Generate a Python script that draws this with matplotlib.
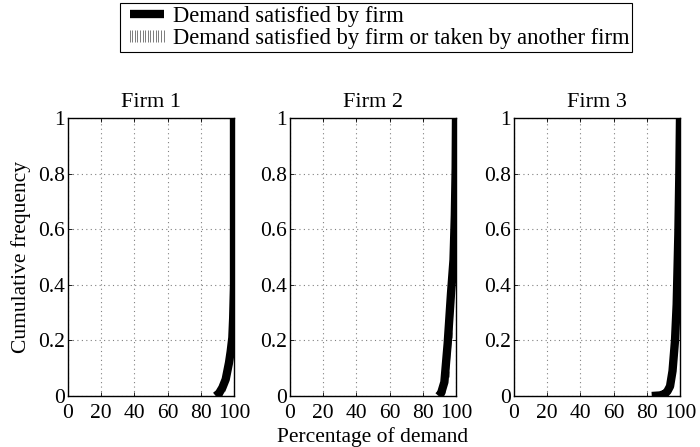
import matplotlib
matplotlib.use('Agg')
import matplotlib.pyplot as plt
from matplotlib.lines import Line2D

plt.rcParams['font.family'] = 'Liberation Serif'
plt.rcParams['font.size'] = 15.5

firms = ['Firm 1', 'Firm 2', 'Firm 3']

# cumulative distribution of demand satisfied by each firm (percent)
sat_x = [
    [89, 91, 93, 95, 97, 98, 99, 99.5, 100, 100],
    [89.5, 91, 93, 95, 97, 98.5, 99.3, 99.8, 100],
    [83, 88, 91, 92.5, 94, 95.5, 97, 98, 99, 99.6, 100],
]
sat_y = [
    [0, 0.01, 0.03, 0.06, 0.12, 0.16, 0.21, 0.28, 0.4, 1.0],
    [0, 0.01, 0.05, 0.19, 0.37, 0.49, 0.65, 0.82, 1.0],
    [0, 0.002, 0.008, 0.018, 0.035, 0.09, 0.2, 0.33, 0.58, 0.8, 1.0],
]

# demand satisfied by the firm or taken by another firm
any_x = [
    [90.5, 92.5, 94.5, 96.5, 98, 99, 99.6, 100, 100],
    [91, 93.5, 95.5, 97.5, 98.8, 99.5, 99.9, 100, 100],
    [89, 92, 94, 96, 97.8, 99, 99.7, 100, 100],
]
any_y = [
    [0, 0.01, 0.03, 0.07, 0.13, 0.21, 0.3, 0.45, 1.0],
    [0, 0.02, 0.08, 0.22, 0.38, 0.55, 0.75, 0.9, 1.0],
    [0, 0.005, 0.02, 0.06, 0.17, 0.35, 0.6, 0.85, 1.0],
]

xticks = [0, 20, 40, 60, 80, 100]
yticks = [0, 0.2, 0.4, 0.6, 0.8, 1]
ytick_labels = ['0', '0.2', '0.4', '0.6', '0.8', '1']

fig = plt.figure(figsize=(7, 4.47), dpi=100)
lefts = [68 / 700, 290 / 700, 514 / 700]
axes = []
for i, name in enumerate(firms):
    ax = fig.add_axes([lefts[i], 51 / 447, 166 / 700, 278 / 447])
    ax.plot(any_x[i], any_y[i], color='0.45', linewidth=0.5, marker='|',
            markersize=4, markeredgewidth=0.5, zorder=2)
    ax.plot(sat_x[i], sat_y[i], color='black', linewidth=6, solid_capstyle='butt', zorder=3)
    ax.set_xlim(0, 100)
    ax.set_ylim(0, 1)
    ax.set_xticks(xticks)
    ax.set_yticks(yticks)
    ax.set_yticklabels(ytick_labels)
    ax.tick_params(direction='in', length=3, width=0.6, top=True, right=True, pad=2)
    ax.tick_params(axis='x', pad=6)
    ax.grid(True, linestyle=(0, (1, 3)), color='0.5', linewidth=0.8)
    for s in ax.spines.values():
        s.set_linewidth(1.0)
    ax.set_title(name, fontsize=16, pad=8)
    axes.append(ax)

axes[0].set_ylabel('Cumulative frequency', labelpad=5)
axes[1].set_xlabel('Percentage of demand', labelpad=3)

handles = [
    Line2D([], [], color='black', linewidth=6, solid_capstyle='butt'),
    Line2D([], [], color='0.4', linewidth=0, marker='|', markersize=9,
           markeredgewidth=0.6),
]
labels = ['Demand satisfied by firm',
          'Demand satisfied by firm or taken by another firm']
leg = fig.legend(handles, labels, loc='upper center', fontsize=16.3,
                 bbox_to_anchor=(376 / 700, 1 - 3 / 447), numpoints=14,
                 handlelength=2.1, handletextpad=0.1, labelspacing=0.05,
                 borderpad=0.12, borderaxespad=0, fancybox=False, framealpha=1)
leg.get_frame().set_edgecolor('black')
leg.get_frame().set_linewidth(0.8)

fig.savefig('out.png', dpi=100)
